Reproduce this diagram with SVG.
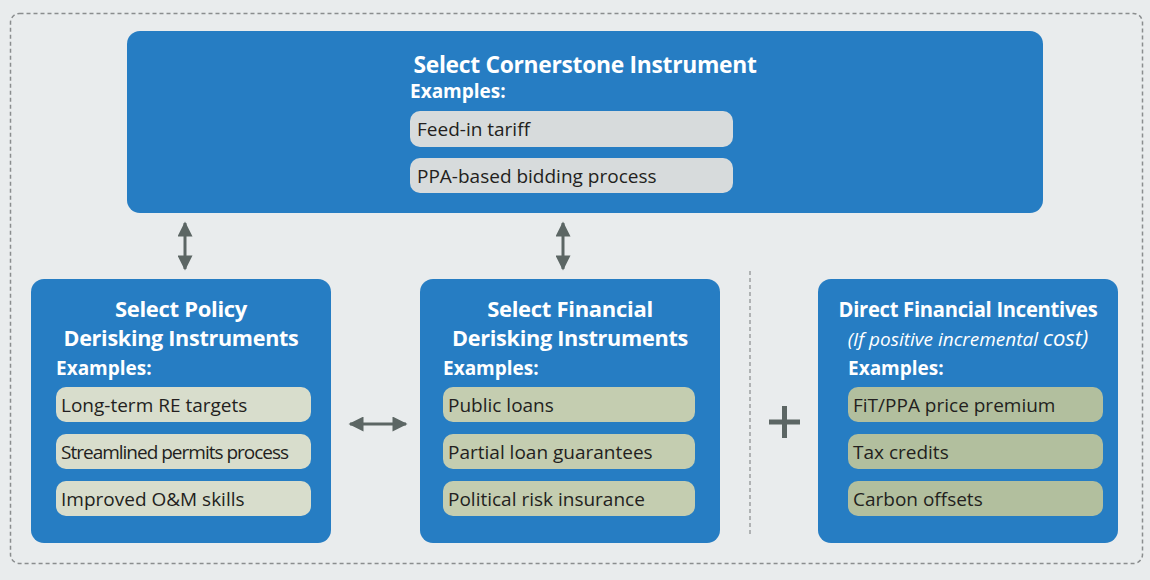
<svg xmlns="http://www.w3.org/2000/svg" width="1150" height="580" viewBox="0 0 1150 580">
<defs>
<style>
.box{fill:#267dc3;}
.title{font-family:"Open Sans","Liberation Sans",sans-serif;font-weight:bold;font-size:22px;fill:#ffffff;text-anchor:middle;letter-spacing:-0.3px}
.ex{font-family:"Open Sans","Liberation Sans",sans-serif;font-weight:bold;font-size:19px;fill:#ffffff}
.item{font-family:"Open Sans","Liberation Sans",sans-serif;font-size:19px;fill:#231f20}
.p0{fill:#d7dbdc}
.p1{fill:#d8ddcc}
.p2{fill:#c4cdb0}
.p3{fill:#b2bf9e}
.conn{stroke:#5c6664;stroke-width:3;fill:none}
</style>
<marker id="ah" viewBox="0 0 10 10" refX="9" refY="5" markerWidth="5.5" markerHeight="5" markerUnits="strokeWidth" orient="auto-start-reverse">
<path d="M0,0 L10,5 L0,10 z" fill="#5c6664"/>
</marker>
</defs>
<rect width="1150" height="580" fill="#e9eced"/>
<rect x="10.5" y="13.5" width="1132" height="550" rx="9" fill="none" stroke="#8a8d8e" stroke-width="1.5" stroke-dasharray="4,3"/>

<g id="cornerstone">
<rect class="box" x="127" y="31" width="916" height="182" rx="13"/>
<text class="title" x="585" y="73" style="font-size:23px" textLength="343" lengthAdjust="spacingAndGlyphs">Select Cornerstone Instrument</text>
<text class="ex" x="410" y="98">Examples:</text>
<rect class="p0" x="410" y="111" width="323" height="36" rx="10"/>
<text class="item" x="417" y="136">Feed-in tariff</text>
<rect class="p0" x="410" y="158" width="323" height="35" rx="10"/>
<text class="item" x="417" y="183">PPA-based bidding process</text>
</g>

<g id="policy">
<rect class="box" x="31" y="279" width="300" height="264" rx="13"/>
<text class="title" x="181" y="317">Select Policy</text>
<text class="title" x="181" y="346" textLength="235" lengthAdjust="spacingAndGlyphs">Derisking Instruments</text>
<text class="ex" x="56" y="375">Examples:</text>
<rect class="p1" x="56" y="387" width="255" height="35" rx="10"/>
<text class="item" x="61" y="412">Long-term RE targets</text>
<rect class="p1" x="56" y="434" width="255" height="35" rx="10"/>
<text class="item" x="61" y="459" style="letter-spacing:-1px">Streamlined permits process</text>
<rect class="p1" x="56" y="481" width="255" height="35" rx="10"/>
<text class="item" x="61" y="506">Improved O&amp;M skills</text>
</g>

<g id="financial">
<rect class="box" x="420" y="279" width="300" height="264" rx="13"/>
<text class="title" x="570" y="317">Select Financial</text>
<text class="title" x="570" y="346" textLength="236" lengthAdjust="spacingAndGlyphs">Derisking Instruments</text>
<text class="ex" x="443" y="375">Examples:</text>
<rect class="p2" x="443" y="387" width="252" height="35" rx="10"/>
<text class="item" x="448" y="412">Public loans</text>
<rect class="p2" x="443" y="434" width="252" height="35" rx="10"/>
<text class="item" x="448" y="459">Partial loan guarantees</text>
<rect class="p2" x="443" y="481" width="252" height="35" rx="10"/>
<text class="item" x="448" y="506">Political risk insurance</text>
</g>

<g id="incentives">
<rect class="box" x="818" y="279" width="300" height="264" rx="13"/>
<text class="title" x="968" y="317" textLength="259" lengthAdjust="spacingAndGlyphs">Direct Financial Incentives</text>
<text x="968" y="346" text-anchor="middle" font-family="Open Sans, Liberation Sans, sans-serif" font-style="italic" font-size="19" fill="#ffffff">(If positive incremental <tspan font-size="22">cost)</tspan></text>
<text class="ex" x="848" y="375">Examples:</text>
<rect class="p3" x="848" y="387" width="255" height="35" rx="10"/>
<text class="item" x="853" y="412">FiT/PPA price premium</text>
<rect class="p3" x="848" y="434" width="255" height="35" rx="10"/>
<text class="item" x="853" y="459">Tax credits</text>
<rect class="p3" x="848" y="481" width="255" height="35" rx="10"/>
<text class="item" x="853" y="506">Carbon offsets</text>
</g>

<g id="connectors">
<line class="conn" x1="185" y1="223" x2="185" y2="269" marker-start="url(#ah)" marker-end="url(#ah)"/>
<line class="conn" x1="563" y1="223" x2="563" y2="269" marker-start="url(#ah)" marker-end="url(#ah)"/>
<line class="conn" x1="350" y1="424" x2="406" y2="424" marker-start="url(#ah)" marker-end="url(#ah)"/>
<line x1="750" y1="271" x2="750" y2="537" stroke="#8a8d8e" stroke-width="1.2" stroke-dasharray="4,3"/>
<path d="M769,422 H800 M784.5,406 V438" stroke="#5c6664" stroke-width="5" fill="none"/>
</g>
</svg>
